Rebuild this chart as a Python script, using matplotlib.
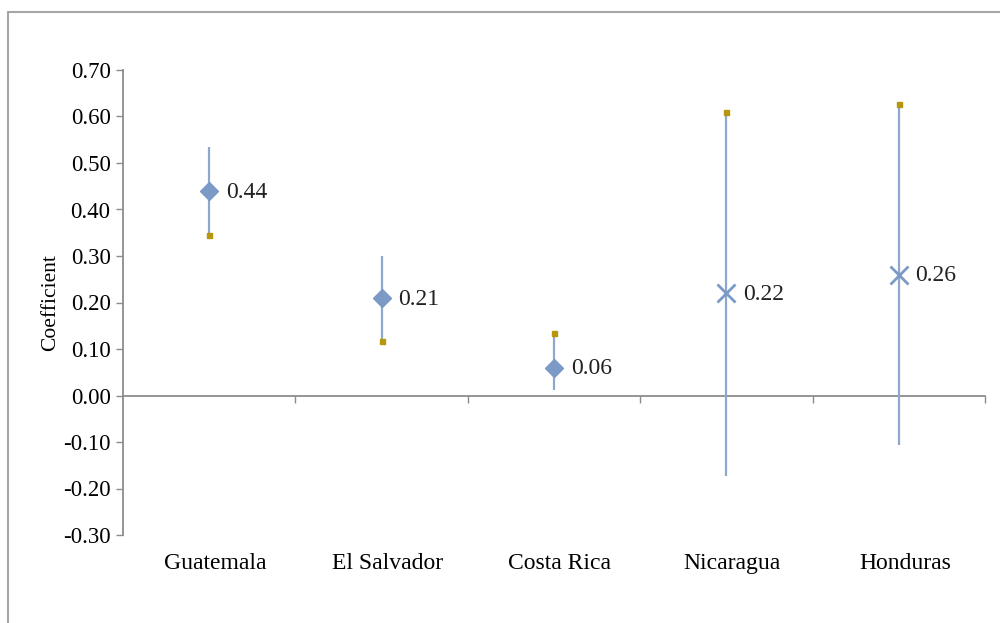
import numpy as np
import matplotlib.pyplot as plt
from matplotlib.patches import Rectangle
from matplotlib.transforms import ScaledTranslation

# Coefficients and confidence bounds by country
countries = ["Guatemala", "El Salvador", "Costa Rica", "Nicaragua", "Honduras"]
coef = [0.44, 0.21, 0.06, 0.22, 0.26]
upper = [0.535, 0.30, 0.134, 0.61, 0.627]
lower = [0.345, 0.117, 0.012, -0.173, -0.106]
cap_on_top = [False, False, True, True, True]
markers = ["D", "D", "D", "x", "x"]

yticks = np.arange(-0.30, 0.701, 0.10)

blue = "#7b9ac6"
bar_blue = "#8ea7cc"
gold = "#b8960c"
grey = "#8c8c8c"

plt.rcParams["font.family"] = ["Liberation Serif", "DejaVu Serif"]

fig = plt.figure(figsize=(10, 6.23), dpi=100)
ax = fig.add_axes([0.123, 1 - 535 / 623, 0.862, (535 - 70) / 623])

x = np.arange(len(countries))
for i in range(len(countries)):
    ax.vlines(x[i], lower[i], upper[i], color=bar_blue, lw=1.6, zorder=2)
    cap = upper[i] if cap_on_top[i] else lower[i]
    ax.plot(x[i], cap, marker="s", ms=3.6, color=gold, mec=gold, zorder=3)
    if markers[i] == "D":
        ax.plot(x[i], coef[i], marker="D", ms=9, color=blue, mec=blue, zorder=4)
    else:
        ax.plot(x[i], coef[i], marker="x", ms=13, mew=2, color=blue, zorder=4)
    ax.annotate(f"{coef[i]:.2f}", (x[i], coef[i]), xytext=(12, -1),
                textcoords="offset points", va="center", ha="left",
                fontsize=17, color="#222222")

ax.set_xlim(-0.5, len(countries) - 0.5)
ax.set_ylim(-0.30, 0.70)
ax.set_yticks(yticks)
ax.set_yticklabels([f"{v:.2f}" for v in yticks], fontsize=16.5)
ax.set_ylabel("Coefficient", fontsize=15.5, labelpad=2)

ax.set_xticks(x)
ax.set_xticklabels(countries, fontsize=17)
ax.tick_params(axis="x", length=0, pad=13)
ax.tick_params(axis="y", length=5, width=1, color=grey, pad=4)
shift = ScaledTranslation(6 / 100, 0, fig.dpi_scale_trans)
for lbl in ax.get_xticklabels():
    lbl.set_transform(lbl.get_transform() + shift)

for side in ["top", "right", "bottom"]:
    ax.spines[side].set_visible(False)
ax.spines["left"].set_color(grey)
ax.spines["left"].set_linewidth(1.3)

# Category axis drawn through zero, with ticks between categories
zero_axis = ax.secondary_xaxis(0, transform=ax.transData)
zero_axis.set_xticks(np.arange(0.5, len(countries), 1.0))
zero_axis.set_xticklabels([])
zero_axis.tick_params(length=5, width=1, color=grey, direction="out")
zero_axis.spines["bottom"].set_color(grey)
zero_axis.spines["bottom"].set_linewidth(1.3)

# Outer chart border
fig.patches.append(Rectangle((8 / 1000, -0.1), 1.2, 1 - 12 / 623 + 0.1,
                             transform=fig.transFigure, fill=False,
                             edgecolor="#a6a6a6", lw=1.5))

fig.savefig("out.png", dpi=100)
